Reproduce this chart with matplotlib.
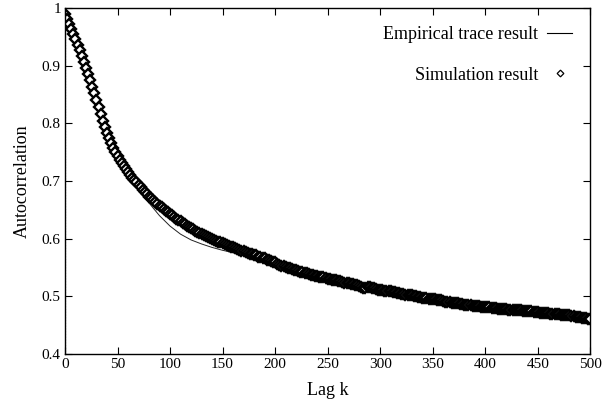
import matplotlib
matplotlib.use("Agg")
import matplotlib.pyplot as plt
from matplotlib.lines import Line2D
import numpy as np

# simulation result, read every 2 lags
sim_lag = np.arange(0, 501, 2)
sim_acf = [
    0.990, 0.981, 0.972, 0.963, 0.955, 0.946, 0.936, 0.927, 0.917, 0.907,
    0.897, 0.886, 0.875, 0.864, 0.852, 0.840, 0.828, 0.816, 0.805, 0.794,
    0.784, 0.775, 0.766, 0.758, 0.751, 0.744, 0.737, 0.731, 0.726, 0.721,
    0.716, 0.711, 0.706, 0.702, 0.698, 0.693, 0.689, 0.685, 0.681, 0.677,
    0.673, 0.670, 0.667, 0.664, 0.661, 0.657, 0.655, 0.652, 0.649, 0.646,
    0.643, 0.641, 0.638, 0.635, 0.633, 0.630, 0.628, 0.626, 0.623, 0.620,
    0.618, 0.617, 0.614, 0.612, 0.610, 0.608, 0.607, 0.605, 0.603, 0.601,
    0.600, 0.598, 0.597, 0.595, 0.594, 0.592, 0.591, 0.590, 0.588, 0.586,
    0.585, 0.584, 0.582, 0.581, 0.579, 0.578, 0.577, 0.576, 0.574, 0.573,
    0.572, 0.571, 0.569, 0.568, 0.567, 0.566, 0.564, 0.563, 0.561, 0.560,
    0.559, 0.557, 0.554, 0.553, 0.552, 0.551, 0.550, 0.549, 0.548, 0.546,
    0.545, 0.544, 0.543, 0.542, 0.541, 0.540, 0.539, 0.538, 0.537, 0.536,
    0.535, 0.534, 0.533, 0.533, 0.532, 0.531, 0.530, 0.529, 0.528, 0.528,
    0.527, 0.526, 0.525, 0.524, 0.524, 0.523, 0.522, 0.521, 0.520, 0.519,
    0.518, 0.517, 0.515, 0.515, 0.516, 0.516, 0.515, 0.514, 0.513, 0.512,
    0.512, 0.511, 0.510, 0.510, 0.509, 0.509, 0.508, 0.507, 0.506, 0.506,
    0.505, 0.504, 0.503, 0.503, 0.502, 0.502, 0.501, 0.500, 0.499, 0.499,
    0.498, 0.497, 0.497, 0.496, 0.496, 0.496, 0.495, 0.494, 0.493, 0.493,
    0.492, 0.491, 0.490, 0.490, 0.489, 0.489, 0.488, 0.488, 0.487, 0.487,
    0.486, 0.486, 0.485, 0.485, 0.484, 0.484, 0.483, 0.483, 0.482, 0.482,
    0.482, 0.481, 0.481, 0.480, 0.480, 0.480, 0.479, 0.479, 0.478, 0.478,
    0.478, 0.477, 0.477, 0.477, 0.477, 0.476, 0.476, 0.476, 0.475, 0.475,
    0.475, 0.474, 0.474, 0.473, 0.473, 0.473, 0.472, 0.472, 0.471, 0.471,
    0.471, 0.470, 0.470, 0.469, 0.469, 0.469, 0.468, 0.468, 0.467, 0.467,
    0.467, 0.466, 0.466, 0.465, 0.465, 0.464, 0.463, 0.462, 0.462, 0.461,
    0.460,
]

# empirical trace, every 10 lags
emp_lag = np.arange(0, 501, 10)
emp_acf = [
    0.990, 0.946, 0.897, 0.840, 0.784, 0.744, 0.713, 0.687, 0.662, 0.640,
    0.622, 0.608, 0.598, 0.591, 0.585, 0.580, 0.576, 0.572, 0.567, 0.563,
    0.558, 0.551, 0.545, 0.540, 0.535, 0.531, 0.527, 0.523, 0.518, 0.510,
    0.504, 0.500, 0.497, 0.495, 0.494, 0.493, 0.491, 0.489, 0.486, 0.484,
    0.482, 0.480, 0.478, 0.477, 0.475, 0.473, 0.471, 0.469, 0.467, 0.464,
    0.460,
]

plt.rcParams['font.family'] = ['Liberation Serif', 'DejaVu Serif']

fig = plt.figure(figsize=(6.13, 4.07), dpi=100)
ax = fig.add_axes([0.106, 0.130, 0.857, 0.850])

ax.axvline(0, color='black', lw=0.8, ls=(0, (1, 1.5)))
ax.plot(emp_lag, emp_acf, color='#222222', lw=0.7)
ax.plot(sim_lag, sim_acf, ls='none', marker='D', ms=4.8, mfc='white',
        mec='black', mew=1.7)

ax.set_xlim(0, 500)
ax.set_ylim(0.4, 1.0)
ax.set_xticks(np.arange(0, 501, 50))
ax.set_yticks([0.4, 0.5, 0.6, 0.7, 0.8, 0.9, 1.0])
ax.set_yticklabels(['0.4', '0.5', '0.6', '0.7', '0.8', '0.9', '1'])
ax.tick_params(direction='in', length=5, width=0.8, top=True, right=True,
               labelsize=11, pad=3)
for s in ax.spines.values():
    s.set_linewidth(1.0)

ax.set_xlabel('Lag k', fontsize=13, labelpad=8)
ax.set_ylabel('Autocorrelation', fontsize=13, labelpad=8)

handles = [
    Line2D([], [], color='black', lw=0.8),
    Line2D([], [], ls='none', marker='D', ms=3.4, mfc='white', mec='black', mew=0.9),
]
ax.legend(handles, ['Empirical trace result', 'Simulation result'],
          loc='upper right', frameon=False, markerfirst=False, fontsize=13,
          handlelength=1.4, labelspacing=1.3, borderaxespad=0.6,
          handletextpad=0.5)

fig.savefig('out.png', dpi=100)
